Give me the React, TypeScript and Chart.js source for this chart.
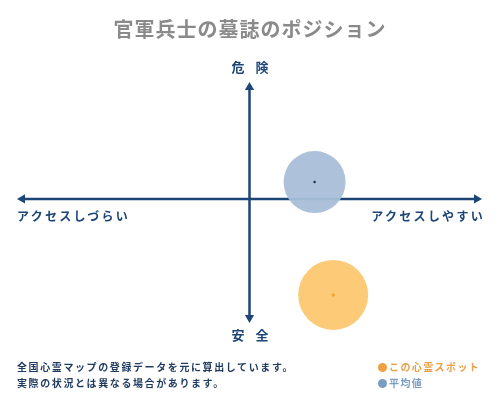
import { useEffect, useRef } from "react";
import { Chart, registerables, Plugin } from "chart.js";

Chart.register(...registerables);

const title = "官軍兵士の墓誌のポジション";
const axisTop = "危 険";
const axisBottom = "安 全";
const axisLeft = "アクセスしづらい";
const axisRight = "アクセスしやすい";
const seriesNames = ["この心霊スポット", "平均値"];
// [x, y, bubble radius]
const spotPoint = [3.6, -8.2, 35];
const averagePoint = [2.8, 1.45, 31];
const notes = [
  "全国心霊マップの登録データを元に算出しています。",
  "実際の状況とは異なる場合があります。",
];

const FONT = '"Noto Sans CJK JP", sans-serif';
const NAVY = "#1d4677";

const arrowAxes: Plugin = {
  id: "arrowAxes",
  beforeDatasetsDraw(chart) {
    const { ctx, chartArea, scales } = chart;
    const cx = scales.x.getPixelForValue(0);
    const cy = scales.y.getPixelForValue(0);
    const head = 6;
    ctx.save();
    ctx.strokeStyle = NAVY;
    ctx.fillStyle = NAVY;
    ctx.lineWidth = 2.5;
    ctx.beginPath();
    ctx.moveTo(chartArea.left + 3, cy);
    ctx.lineTo(chartArea.right - 3, cy);
    ctx.moveTo(cx, chartArea.top + 3);
    ctx.lineTo(cx, chartArea.bottom - 3);
    ctx.stroke();
    const tri = (pts: number[][]) => {
      ctx.beginPath();
      ctx.moveTo(pts[0][0], pts[0][1]);
      ctx.lineTo(pts[1][0], pts[1][1]);
      ctx.lineTo(pts[2][0], pts[2][1]);
      ctx.closePath();
      ctx.fill();
    };
    tri([[chartArea.left, cy], [chartArea.left + head + 2, cy - head / 1.3], [chartArea.left + head + 2, cy + head / 1.3]]);
    tri([[chartArea.right, cy], [chartArea.right - head - 2, cy - head / 1.3], [chartArea.right - head - 2, cy + head / 1.3]]);
    tri([[cx, chartArea.top], [cx - head / 1.3, chartArea.top + head + 2], [cx + head / 1.3, chartArea.top + head + 2]]);
    tri([[cx, chartArea.bottom], [cx - head / 1.3, chartArea.bottom - head - 2], [cx + head / 1.3, chartArea.bottom - head - 2]]);
    ctx.restore();
  },
};

const textBase: React.CSSProperties = {
  position: "absolute",
  fontFamily: FONT,
  fontWeight: 700,
  whiteSpace: "nowrap",
  margin: 0,
  lineHeight: 1,
};

export default function App() {
  const chartRef = useRef<HTMLCanvasElement>(null);
  const chartInstance = useRef<Chart | null>(null);

  useEffect(() => {
    if (!chartRef.current) return;
    if (chartInstance.current) chartInstance.current.destroy();
    const ctx = chartRef.current.getContext("2d");
    if (!ctx) return;

    chartInstance.current = new Chart(ctx, {
      type: "bubble",
      data: {
        datasets: [
          {
            label: seriesNames[1] + " center",
            type: "scatter",
            data: [{ x: averagePoint[0], y: averagePoint[1] }],
            pointRadius: 1.2,
            backgroundColor: "#1a2a40",
            borderWidth: 0,
            clip: false,
          },
          {
            label: seriesNames[0] + " center",
            type: "scatter",
            data: [{ x: spotPoint[0], y: spotPoint[1] }],
            pointRadius: 2,
            pointStyle: "rectRot",
            backgroundColor: "#f3a323",
            borderWidth: 0,
            clip: false,
          },
          {
            label: seriesNames[1],
            data: [{ x: averagePoint[0], y: averagePoint[1], r: averagePoint[2] }],
            backgroundColor: "rgba(169, 191, 216, 0.95)",
            borderWidth: 0,
            clip: false,
          },
          {
            label: seriesNames[0],
            data: [{ x: spotPoint[0], y: spotPoint[1], r: spotPoint[2] }],
            backgroundColor: "rgba(253, 200, 112, 0.95)",
            borderWidth: 0,
            clip: false,
          },
        ],
      } as any,
      options: {
        responsive: true,
        maintainAspectRatio: false,
        animation: false,
        layout: { autoPadding: false, padding: { left: 17, right: 18, top: 82, bottom: 77 } },
        plugins: { legend: { display: false }, tooltip: { enabled: false }, title: { display: false } },
        scales: {
          x: { display: false, min: -10, max: 10 },
          y: { display: false, min: -10.6, max: 10 },
        },
        elements: { point: { hoverRadius: 0 } },
      } as any,
      plugins: [arrowAxes],
    });

    return () => {
      if (chartInstance.current) {
        chartInstance.current.destroy();
        chartInstance.current = null;
      }
    };
  }, []);

  return (
    <div style={{ position: "absolute", left: 0, top: 0, width: 500, height: 400, background: "#fff", overflow: "hidden" }}>
      <div style={{ position: "absolute", left: 0, top: 0, width: 500, height: 400 }}>
        <canvas ref={chartRef}></canvas>
      </div>
      <div style={{ ...textBase, left: 0, width: 500, top: 19, textAlign: "center", fontSize: 20, color: "#8a8a8a", letterSpacing: 1 }}>
        {title}
      </div>
      <div style={{ ...textBase, left: 0, width: 500, top: 60, textAlign: "center", fontSize: 13, color: NAVY, letterSpacing: 4, textIndent: 4 }}>{axisTop}</div>
      <div style={{ ...textBase, left: 0, width: 500, top: 328, textAlign: "center", fontSize: 13, color: NAVY, letterSpacing: 4, textIndent: 4 }}>{axisBottom}</div>
      <div style={{ ...textBase, left: 17, top: 210, fontSize: 12, color: NAVY, letterSpacing: 2.3 }}>{axisLeft}</div>
      <div style={{ ...textBase, right: 17, top: 210, fontSize: 12, color: NAVY, letterSpacing: 2.3, marginRight: -2 }}>{axisRight}</div>
      {notes.map((n, i) => (
        <div key={n} style={{ ...textBase, left: 17, top: 362 + i * 16, fontSize: 10, color: "#1f3a5f", letterSpacing: 1.6 }}>
          {n}
        </div>
      ))}
      {[
        { name: seriesNames[0], dot: "#f0a040", color: "#e8a04a" },
        { name: seriesNames[1], dot: "#7a9cc0", color: "#7a9cc0" },
      ].map((s, i) => (
        <div key={s.name} style={{ ...textBase, left: 378, top: 362 + i * 16, fontSize: 10, color: s.color, letterSpacing: 1.4, display: "flex", alignItems: "center" }}>
          <span style={{ display: "inline-block", width: 9, height: 9, borderRadius: "50%", background: s.dot, marginRight: 2 }}></span>
          {s.name}
        </div>
      ))}
    </div>
  );
}
